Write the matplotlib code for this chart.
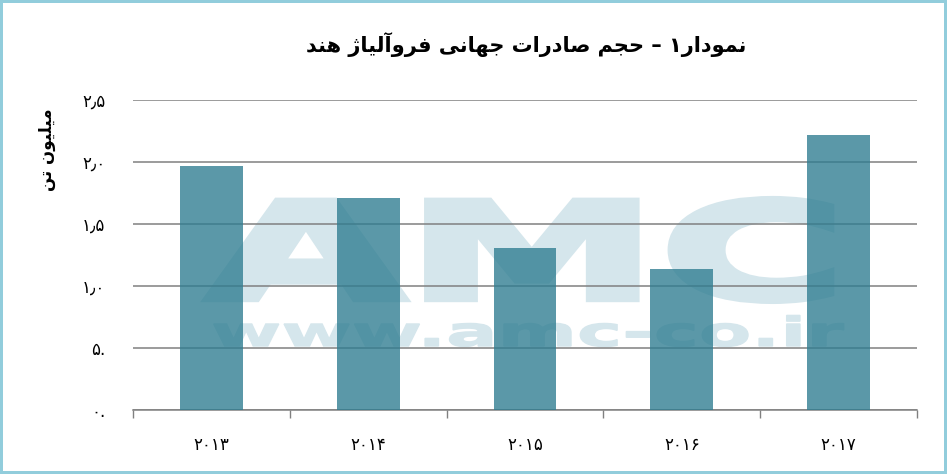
import matplotlib
matplotlib.use("Agg")
import matplotlib.pyplot as plt
from matplotlib.patheffects import AbstractPathEffect
from matplotlib.transforms import Affine2D
from matplotlib.ticker import FixedLocator

# data
years = ["۲۰۱۳", "۲۰۱۴", "۲۰۱۵", "۲۰۱۶", "۲۰۱۷"]
exports = [1.97, 1.71, 1.31, 1.14, 2.22]  # million tonnes
ytick_values = [0, 0.5, 1.0, 1.5, 2.0, 2.5]
ytick_labels = ["۰.", "۵.", "۱٫۰", "۱٫۵", "۲٫۰", "۲٫۵"]

title_text = "نمودار۱ – حجم صادرات جهانی فروآلیاژ هند"
ylabel_text = "میلیون تن"

# contextual forms: isolated, final, initial, medial
FORMS = {
    "ا": ("\uFE8D", "\uFE8E", None, None),
    "آ": ("\uFE81", "\uFE82", None, None),
    "ت": ("\uFE95", "\uFE96", "\uFE97", "\uFE98"),
    "ج": ("\uFE9D", "\uFE9E", "\uFE9F", "\uFEA0"),
    "ح": ("\uFEA1", "\uFEA2", "\uFEA3", "\uFEA4"),
    "د": ("\uFEA9", "\uFEAA", None, None),
    "ر": ("\uFEAD", "\uFEAE", None, None),
    "ژ": ("\uFB8A", "\uFB8B", None, None),
    "ص": ("\uFEB9", "\uFEBA", "\uFEBB", "\uFEBC"),
    "ف": ("\uFED1", "\uFED2", "\uFED3", "\uFED4"),
    "ل": ("\uFEDD", "\uFEDE", "\uFEDF", "\uFEE0"),
    "م": ("\uFEE1", "\uFEE2", "\uFEE3", "\uFEE4"),
    "ن": ("\uFEE5", "\uFEE6", "\uFEE7", "\uFEE8"),
    "ه": ("\uFEE9", "\uFEEA", "\uFEEB", "\uFEEC"),
    "و": ("\uFEED", "\uFEEE", None, None),
    "ی": ("\uFBFC", "\uFBFD", "\uFBFE", "\uFBFF"),
}


def shape(text):
    """Very small Persian shaper: pick joined forms, then reverse for display."""
    out = []
    for i, ch in enumerate(text):
        if ch not in FORMS:
            out.append(ch)
            continue
        iso, fin, ini, med = FORMS[ch]
        prev = text[i - 1] if i > 0 else ""
        nxt = text[i + 1] if i + 1 < len(text) else ""
        join_prev = prev in FORMS and FORMS[prev][2] is not None
        join_next = ini is not None and nxt in FORMS
        if join_prev and join_next:
            out.append(med)
        elif join_prev:
            out.append(fin)
        elif join_next:
            out.append(ini)
        else:
            out.append(iso)
    return "".join(reversed(out))


class StretchX(AbstractPathEffect):
    """Stretch text horizontally about a pixel x position, with a fattening stroke."""

    def __init__(self, sx, cx, stroke=0.0, color=None):
        super().__init__()
        self.sx = sx
        self.cx = cx
        self.stroke = stroke
        self.color = color

    def draw_path(self, renderer, gc, tpath, affine, rgbFace=None):
        t = affine + Affine2D().translate(-self.cx, 0).scale(self.sx, 1).translate(self.cx, 0)
        if self.stroke > 0:
            gc0 = renderer.new_gc()
            gc0.copy_properties(gc)
            gc0.set_linewidth(self.stroke)
            gc0.set_foreground(self.color)
            gc0.set_joinstyle("miter")
            renderer.draw_path(gc0, tpath, t, rgbFace)
            gc0.restore()
        else:
            renderer.draw_path(gc, tpath, t, rgbFace)


plt.rcParams["font.family"] = ["DejaVu Sans"]

W, H = 947, 474
fig = plt.figure(figsize=(W / 100, H / 100), dpi=100)
fig.patch.set_edgecolor("#92cddc")
fig.patch.set_linewidth(4)

ax = fig.add_axes([133 / W, 1 - 410 / H, (917 - 133) / W, (410 - 100) / H])

# watermark, kept under the grid and bars
wm_color = "#d5e6ec"
wm_cx = 527
wm_big = ax.text(wm_cx / W, 1 - 298 / H, "AMC", fontsize=95, fontweight="bold",
                 color=wm_color, ha="center", va="baseline", zorder=0.2,
                 transform=fig.transFigure)
wm_small = ax.text(wm_cx / W, 1 - 346 / H, "www.amc-co.ir", fontsize=29, fontweight="bold",
                   color=wm_color, ha="center", va="baseline", zorder=0.2,
                   transform=fig.transFigure)
fig.canvas.draw()
for t, target, lw in [(wm_big, 640, 6), (wm_small, 632, 1)]:
    bb = t.get_window_extent()
    t.set_path_effects([StretchX(target / bb.width, wm_cx, stroke=lw, color=wm_color)])

x = range(len(years))
ax.set_axisbelow(True)
ax.grid(axis="y", color="#808080", linewidth=1.1)
ax.bar(x, exports, width=0.4, color="#2f7d91", alpha=0.79, zorder=3)

ax.set_xlim(-0.5, len(years) - 0.5)
ax.set_ylim(0, 2.5)
ax.set_yticks(ytick_values)
ax.set_yticklabels(ytick_labels, fontsize=12)
ax.tick_params(axis="y", length=0, pad=20)

ax.set_xticks(list(x))
ax.set_xticklabels(years, fontsize=12)
ax.tick_params(axis="x", which="major", length=0, pad=19)
ax.xaxis.set_minor_locator(FixedLocator([i - 0.5 for i in range(len(years) + 1)]))
ax.tick_params(axis="x", which="minor", length=6, width=1, color="#808080")

for side in ["top", "right", "left"]:
    ax.spines[side].set_visible(False)
ax.spines["bottom"].set_color("#808080")
ax.spines["bottom"].set_linewidth(1.1)
ax.patch.set_alpha(0)

fig.text(526 / W, 1 - 45 / H, shape(title_text), fontsize=15, fontweight="bold",
         ha="center", va="center")
fig.text(47 / W, 1 - 150 / H, shape(ylabel_text), fontsize=12, fontweight="bold",
         rotation=90, ha="center", va="center")

fig.savefig("out.png", dpi=100)
